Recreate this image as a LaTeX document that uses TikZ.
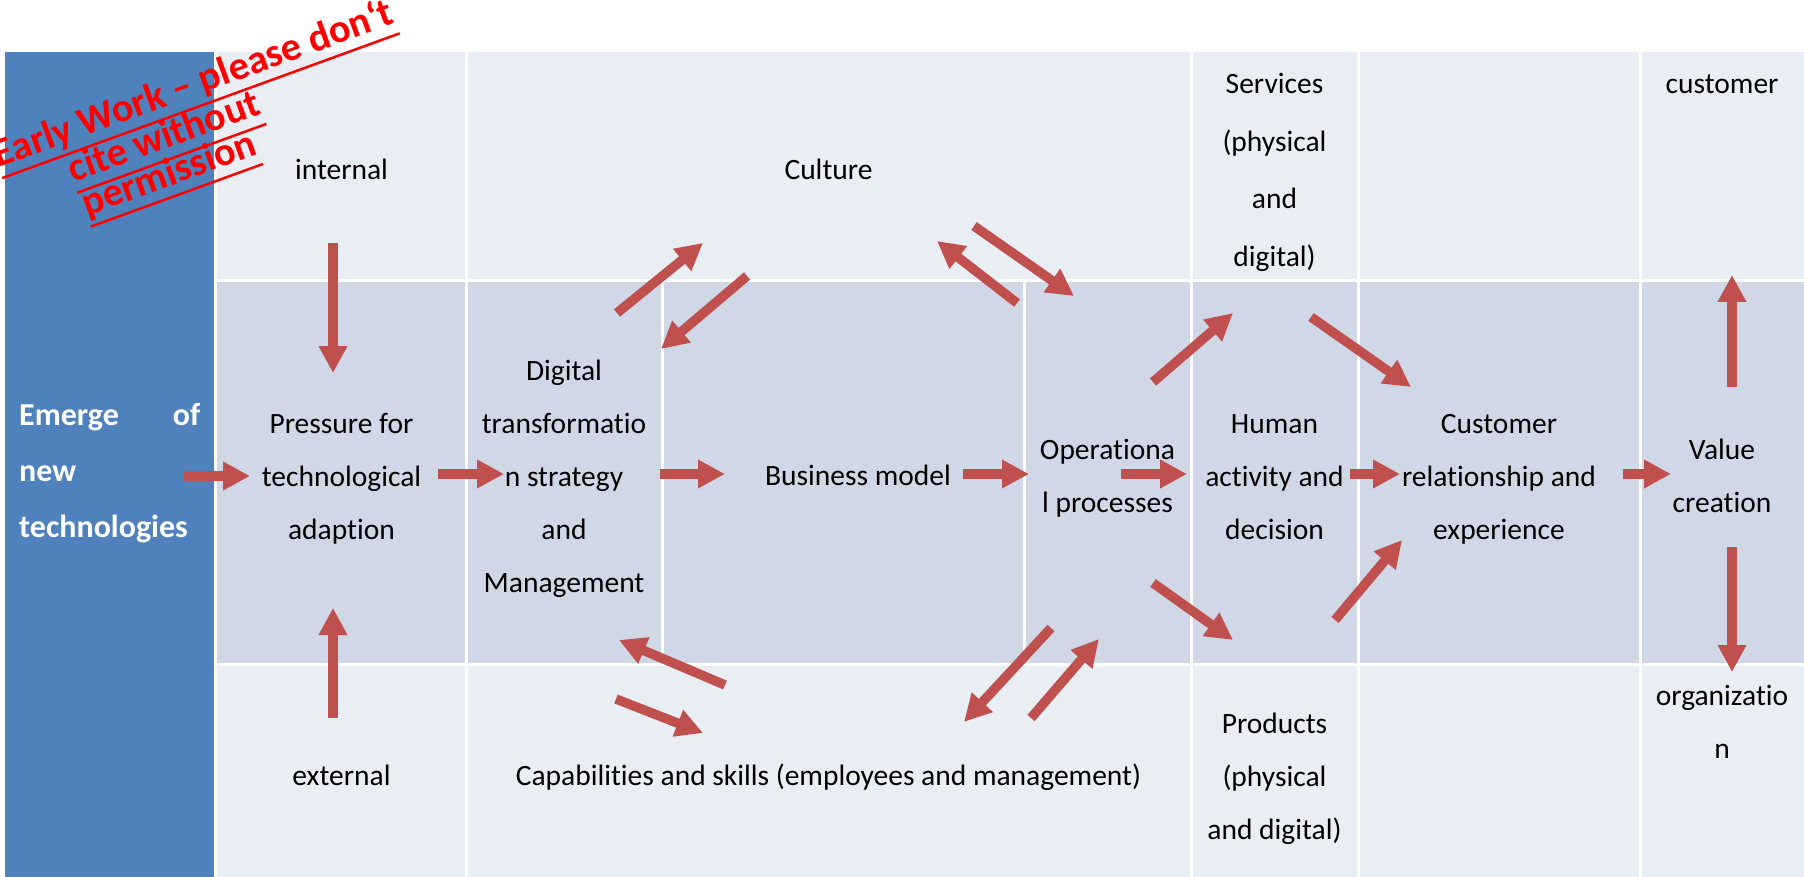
\documentclass[tikz,border=0pt]{standalone}
\usepackage{fontspec}
\setmainfont{Carlito}[Ligatures=NoCommon]
\usetikzlibrary{arrows.meta,calc}
\definecolor{hdrblue}{HTML}{4F81BD}
\definecolor{celllight}{HTML}{E9EDF4}
\definecolor{cellmid}{HTML}{D0D8E8}
\definecolor{arrowred}{HTML}{C0504D}
\definecolor{wmred}{HTML}{FF0000}
\newcommand{\mlines}[1]{\begin{tabular}[t]{@{}c@{}}#1\end{tabular}}
\begin{document}
\begin{tikzpicture}[x=1pt,y=-1pt,
  txt/.style={inner sep=0pt, anchor=base, font=\fontsize{29.5}{53}\selectfont},
  gridline/.style={draw=white, line width=3pt},
  bigarrow/.style={draw=arrowred, line width=9.5pt, -{Triangle[length=27pt,width=27pt]}},
  wm/.style={inner sep=0pt, rotate=20, text=wmred, font=\bfseries\fontsize{40}{36}\selectfont},
  wmline/.style={draw=wmred, line width=2.5pt}]
\useasboundingbox (0,0) rectangle (1804,877);
\clip (0,0) rectangle (1804,877);
\fill[white] (0,0) rectangle (1804,877);
% table cells
\fill[hdrblue] (5,52) rectangle (214,877);
\fill[celllight] (217,52) rectangle (1804,877);
\fill[cellmid] (217,281) rectangle (1804,664);
\draw[gridline] (217,281) -- (1804,281);
\draw[gridline] (217,664) -- (1804,664);
\draw[gridline] (466,52) -- (466,877);
\draw[gridline] (1191,52) -- (1191,877);
\draw[gridline] (1358,52) -- (1358,877);
\draw[gridline] (1640,52) -- (1640,877);
\draw[gridline] (662,281) -- (662,664);
\draw[gridline] (1024,281) -- (1024,664);
% texts
\node[txt, anchor=base west, text=white, font=\bfseries\fontsize{32}{56}\selectfont] (emerge) at (19,425)
  {\begin{tabular}[t]{@{}p{181pt}@{}}Emerge\hfill of\\new\\technologies\end{tabular}};
\node[txt] (internal) at (341.5,180) {internal};
\node[txt] (culture) at (828.5,180) {Culture};
\node[txt, font=\fontsize{29.5}{57.5}\selectfont] (services) at (1274.5,94) {\mlines{Services\\(physical\\and\\digital)}};
\node[txt] (customer) at (1722,94) {customer};
\node[txt] (pressure) at (341.5,433) {\mlines{Pressure for\\technological\\adaption}};
\node[txt] (digital) at (564,380) {\mlines{Digital\\transformatio\\n strategy\\and\\Management}};
\node[txt] (business) at (858,485) {Business model};
\node[txt] (operational) at (1107.5,459) {\mlines{Operationa\\l processes}};
\node[txt] (human) at (1274.5,433) {\mlines{Human\\activity and\\decision}};
\node[txt] (custrel) at (1499,433) {\mlines{Customer\\relationship and\\experience}};
\node[txt] (value) at (1722,459) {\mlines{Value\\creation}};
\node[txt] (external) at (341.5,785) {external};
\node[txt] (capabilities) at (828.5,785) {Capabilities and skills (employees and management)};
\node[txt] (products) at (1274.5,733) {\mlines{Products\\(physical\\and digital)}};
\node[txt] (organization) at (1722,705) {\mlines{organizatio\\n}};
% arrow end points
\coordinate (a1s) at (333,243);   \coordinate (a1e) at (333,373);
\coordinate (a2s) at (333,718);   \coordinate (a2e) at (333,608);
\coordinate (a3s) at (184,476);   \coordinate (a3e) at (250,476);
\coordinate (a4s) at (438,474);   \coordinate (a4e) at (504,474);
\coordinate (a5s) at (660,474);   \coordinate (a5e) at (725,474);
\coordinate (a6s) at (963,474);   \coordinate (a6e) at (1029,474);
\coordinate (a7s) at (1121,474);  \coordinate (a7e) at (1187,474);
\coordinate (a8s) at (1350,474);  \coordinate (a8e) at (1400,474);
\coordinate (a9s) at (1623,474);  \coordinate (a9e) at (1671,474);
\coordinate (a10s) at (1732,387); \coordinate (a10e) at (1732,275);
\coordinate (a11s) at (1732,547); \coordinate (a11e) at (1732,672);
\coordinate (a12s) at (617,313);  \coordinate (a12e) at (703,243);
\coordinate (a13s) at (747,276);  \coordinate (a13e) at (661,349);
\coordinate (a14s) at (1017,303); \coordinate (a14e) at (937,241);
\coordinate (a15s) at (974,226);  \coordinate (a15e) at (1074,296);
\coordinate (a16s) at (1153,382); \coordinate (a16e) at (1233,313);
\coordinate (a17s) at (1311,317); \coordinate (a17e) at (1411,387);
\coordinate (a18s) at (1153,583); \coordinate (a18e) at (1233,640);
\coordinate (a19s) at (1335,620); \coordinate (a19e) at (1402,540);
\coordinate (a20s) at (725,685);  \coordinate (a20e) at (619,640);
\coordinate (a21s) at (616,699);  \coordinate (a21e) at (703,733);
\coordinate (a22s) at (1051,628); \coordinate (a22e) at (964,722);
\coordinate (a23s) at (1031,718); \coordinate (a23e) at (1099,639);
\foreach \i in {1,...,23} { \draw[bigarrow] (a\i s) -- (a\i e); }
% watermark
\node[wm, anchor=base east] (wm1) at (396,23) {Early Work – please don‘t};
\node[wm, anchor=base] (wm2) at (168,148) {cite without};
\node[wm, anchor=base] (wm3) at (173,185) {permission};
\foreach \w in {wm1,wm2,wm3} {
  \draw[wmline] ($(\w.base west)+(3.76,10.34)$) -- ($(\w.base east)+(3.76,10.34)$);
}
\end{tikzpicture}
\end{document}
